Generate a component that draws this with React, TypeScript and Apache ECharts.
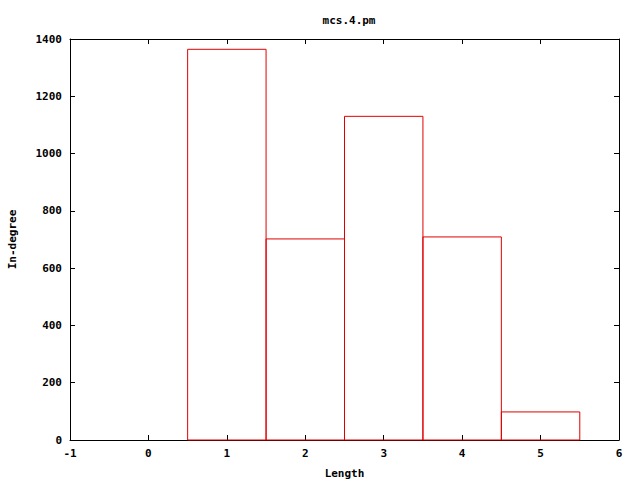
import React, { useEffect, useRef } from "react";
import * as echarts from "echarts";

const lengths = [1, 2, 3, 4, 5];
const inDegree = [1364, 702, 1130, 709, 98];
const title = "mcs.4.pm";
const xName = "Length";
const yName = "In-degree";

export default function App() {
  const ref = useRef<HTMLDivElement>(null);
  useEffect(() => {
    if (!ref.current) return;
    const chart = echarts.init(ref.current, null, { renderer: "svg" });
    const font = "DejaVu Sans Mono";
    const axisCommon = {
      axisLine: { show: true, onZero: false, lineStyle: { color: "#000", width: 1 } },
      axisTick: { show: true, inside: true, length: 5, lineStyle: { color: "#000" } },
      splitLine: { show: false },
    };
    const labelStyle = { fontFamily: font, fontSize: 11, fontWeight: "bold", color: "#000" };
    chart.setOption({
      animation: false,
      backgroundColor: "#fff",
      title: {
        text: title,
        left: 344,
        top: 10,
        textAlign: "center",
        textStyle: labelStyle,
      },
      grid: { left: 70, right: 21, top: 39, bottom: 40, containLabel: false, outerBoundsMode: "none" },
      xAxis: [
        {
          type: "value",
          min: -1,
          max: 6,
          interval: 1,
          name: xName,
          nameLocation: "middle",
          nameGap: 28,
          nameTextStyle: labelStyle,
          axisLabel: { ...labelStyle, margin: 8 },
          ...axisCommon,
        },
        {
          type: "value",
          position: "top",
          min: -1,
          max: 6,
          interval: 1,
          axisLabel: { show: false },
          ...axisCommon,
        },
      ],
      yAxis: [
        {
          type: "value",
          min: 0,
          max: 1400,
          interval: 200,
          name: yName,
          nameLocation: "middle",
          nameGap: 52,
          nameTextStyle: labelStyle,
          axisLabel: { ...labelStyle, margin: 8, formatter: (v: number) => String(v) },
          ...axisCommon,
        },
        {
          type: "value",
          position: "right",
          min: 0,
          max: 1400,
          interval: 200,
          axisLabel: { show: false },
          ...axisCommon,
        },
      ],
      series: [
        {
          type: "custom",
          xAxisIndex: 0,
          yAxisIndex: 0,
          data: lengths.map((x, i) => [x, inDegree[i]]),
          renderItem: (params: any, api: any) => {
            const x = api.value(0);
            const y = api.value(1);
            const p0 = api.coord([x - 0.5, y]);
            const p1 = api.coord([x + 0.5, 0]);
            return {
              type: "rect",
              shape: { x: p0[0], y: p0[1], width: p1[0] - p0[0], height: p1[1] - p0[1] },
              style: { fill: "none", stroke: "#e00000", lineWidth: 1 },
            };
          },
        },
      ],
    });
    return () => chart.dispose();
  }, []);
  return (
    <div
      ref={ref}
      style={{ position: "fixed", left: 0, top: 0, width: 640, height: 480, background: "#fff" }}
    />
  );
}
